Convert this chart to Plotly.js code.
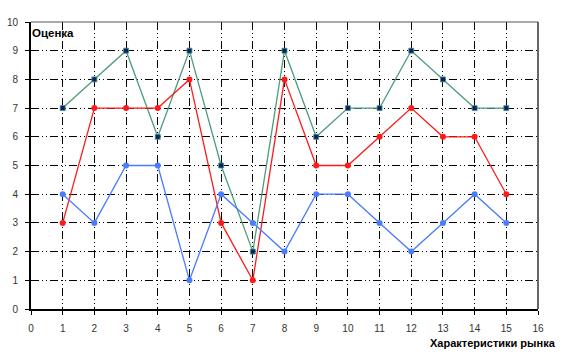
<!DOCTYPE html>
<html><head><meta charset="utf-8">
<script src="https://cdn.plot.ly/plotly-3.0.1.min.js"></script>
<style>html,body{margin:0;padding:0;background:#fff}#c{width:561px;height:359px}</style>
</head><body><div id="c"></div>
<script>
const categories = [1,2,3,4,5,6,7,8,9,10,11,12,13,14,15];
const greenSeries = [7,8,9,6,9,5,2,9,6,7,7,9,8,7,7];
const redSeries   = [3,7,7,7,8,3,1,8,5,5,6,7,6,6,4];
const blueSeries  = [4,3,5,5,1,4,3,2,4,4,3,2,3,4,3];
const xTicks = [0,1,2,3,4,5,6,7,8,9,10,11,12,13,14,15,16];
const yTicks = [0,1,2,3,4,5,6,7,8,9,10];

const traces = [
  {x:categories, y:greenSeries, mode:'lines+markers', line:{color:'#4f9c7c', width:1.3},
   marker:{symbol:'square', size:5, color:'#0a1f6e', line:{color:'#4f9c7c', width:0.8}}},
  {x:categories, y:redSeries, mode:'lines+markers', line:{color:'#ff1a1a', width:1.3},
   marker:{symbol:'circle', size:6, color:'#ff1a1a'}},
  {x:categories, y:blueSeries, mode:'lines+markers', line:{color:'#4a7cff', width:1.3},
   marker:{symbol:'circle', size:6, color:'#4a7cff'}}
];
const grid = {showgrid:true, gridcolor:'#000', gridwidth:1, griddash:'8px,3px,1px,3px,1px,3px'};
const layout = {
  width:561, height:359, showlegend:false,
  paper_bgcolor:'#fff', plot_bgcolor:'#fff',
  margin:{l:31, r:23, t:22, b:50},
  font:{family:'Liberation Sans, Arial, sans-serif', size:10, color:'#222'},
  xaxis:Object.assign({range:[0,16], tickvals:xTicks, ticktext:xTicks.map(String),
    showline:true, linecolor:'#000', linewidth:2, mirror:false, zeroline:false,
    ticks:'outside', ticklen:4, tickcolor:'#000', ticklabelstandoff:5, tickfont:{size:10, color:'#333'}}, grid),
  yaxis:Object.assign({range:[0,10], tickvals:yTicks, ticktext:yTicks.map(String),
    showline:true, linecolor:'#000', linewidth:2, zeroline:false,
    ticks:'outside', ticklen:4, tickcolor:'#000', ticklabelstandoff:5, tickfont:{size:10, color:'#333'}}, grid),
  shapes:[
    {type:'line', xref:'paper', yref:'paper', x0:1, x1:1, y0:0, y1:1, line:{color:'#000', width:1.2}},
    {type:'line', xref:'paper', yref:'paper', x0:0, x1:1, y0:1, y1:1, line:{color:'#555', width:1.2}}
  ],
  annotations:[
    {text:'<b>Оценка</b>', xref:'paper', yref:'paper', x:-0.002, y:0.962, xanchor:'left', yanchor:'middle',
     showarrow:false, font:{size:11.5, color:'#000'}},
    {text:'<b>Характеристики рынка</b>', xref:'paper', yref:'paper', x:1.04, y:-0.118, xanchor:'right', yanchor:'middle',
     showarrow:false, font:{size:11, color:'#000'}}
  ]
};
Plotly.newPlot('c', traces, layout, {displayModeBar:false, staticPlot:true});
</script></body></html>
